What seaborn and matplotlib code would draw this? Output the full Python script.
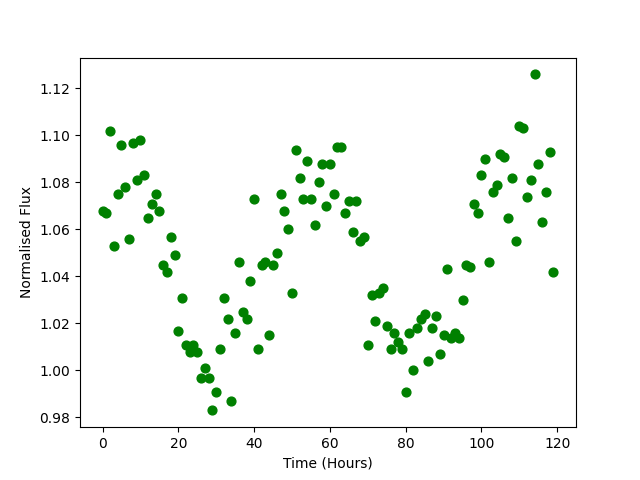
import matplotlib
matplotlib.use("Agg")
import matplotlib.pyplot as plt
import seaborn as sns
import numpy as np

time_hours = list(range(120))
flux = [
    1.068, 1.067, 1.102, 1.053, 1.075, 1.096, 1.078, 1.056, 1.097, 1.081,
    1.098, 1.083, 1.065, 1.071, 1.075, 1.068, 1.045, 1.042, 1.057, 1.049,
    1.017, 1.031, 1.011, 1.008, 1.011, 1.008, 0.997, 1.001, 0.997, 0.983,
    0.991, 1.009, 1.031, 1.022, 0.987, 1.016, 1.046, 1.025, 1.022, 1.038,
    1.073, 1.009, 1.045, 1.046, 1.015, 1.045, 1.050, 1.075, 1.068, 1.060,
    1.033, 1.094, 1.082, 1.073, 1.089, 1.073, 1.062, 1.080, 1.088, 1.070,
    1.088, 1.075, 1.095, 1.095, 1.067, 1.072, 1.059, 1.072, 1.055, 1.057,
    1.011, 1.032, 1.021, 1.033, 1.035, 1.019, 1.009, 1.016, 1.012, 1.009,
    0.991, 1.016, 1.000, 1.018, 1.022, 1.024, 1.004, 1.018, 1.023, 1.007,
    1.015, 1.043, 1.014, 1.016, 1.014, 1.030, 1.045, 1.044, 1.071, 1.067,
    1.083, 1.090, 1.046, 1.076, 1.079, 1.092, 1.091, 1.065, 1.082, 1.055,
    1.104, 1.103, 1.074, 1.081, 1.126, 1.088, 1.063, 1.076, 1.093, 1.042,
]

fig, ax = plt.subplots(figsize=(6.4, 4.8), dpi=100)
sns.scatterplot(x=time_hours, y=flux, ax=ax, color="green", s=40,
                edgecolor="green", linewidth=1.0)
ax.set_xlabel("Time (Hours)")
ax.set_ylabel("Normalised Flux")
fig.savefig("out.png", dpi=100)
